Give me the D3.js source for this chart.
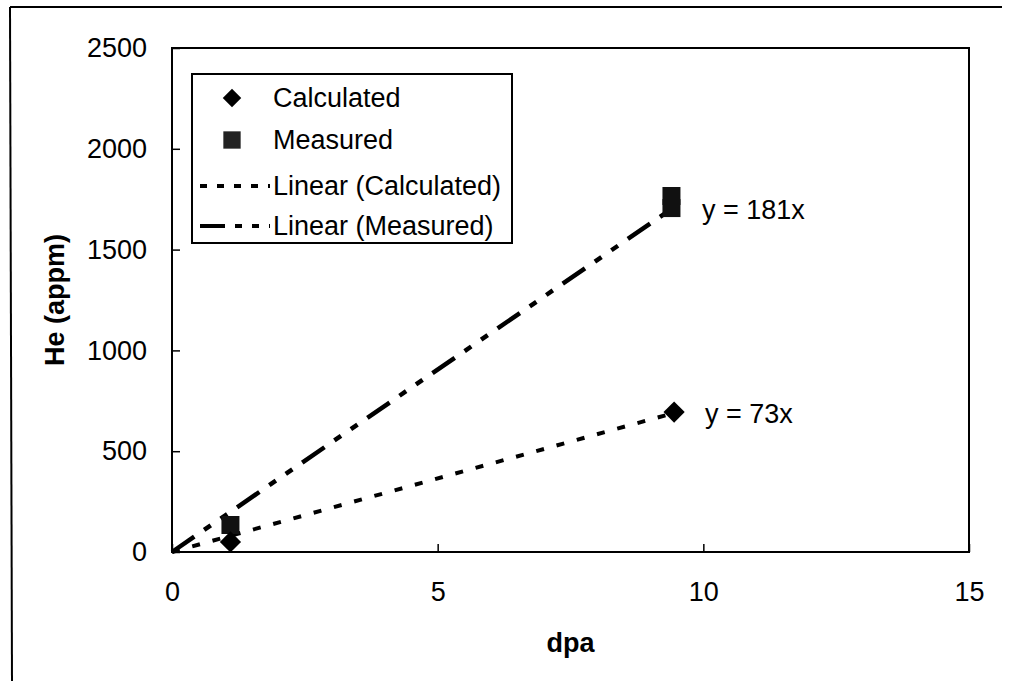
<!DOCTYPE html>
<html>
<head>
<meta charset="utf-8">
<script src="https://cdn.jsdelivr.net/npm/d3@7"></script>
<style>
  body { margin: 0; background: #fff; }
  text { font-family: "Liberation Sans", Arial, sans-serif; fill: #000; }
</style>
</head>
<body>
<svg width="1010" height="681"></svg>
<script>
// data
const calcX = [1.1, 9.45]
const calcY = [50, 694]
const measX = [1.1, 9.4, 9.4]
const measY = [134, 1706, 1766]
const slopes = [73, 181]          // trendline slopes (calculated, measured)
const fitLabels = ["y = 73x", "y = 181x"]
const xTicks = [0, 5, 10, 15]
const yTicks = [0, 500, 1000, 1500, 2000, 2500]
const legendNames = ["Calculated", "Measured", "Linear (Calculated)", "Linear (Measured)"]

const plotLeft = 172, plotRight = 969, plotTop = 48, plotBottom = 552

const svg = d3.select("svg")

// outer chart border (top + left visible in the scan)
svg.append("line").attr("x1", 10).attr("y1", 7).attr("x2", 1002).attr("y2", 7)
    .attr("stroke", "#000").attr("stroke-width", 2)
svg.append("line").attr("x1", 10).attr("y1", 7).attr("x2", 12).attr("y2", 681)
    .attr("stroke", "#000").attr("stroke-width", 2)

const x = d3.scaleLinear().domain([0, 15]).range([plotLeft, plotRight])
const y = d3.scaleLinear().domain([0, 2500]).range([plotBottom, plotTop])

// plot box
svg.append("rect")
    .attr("x", plotLeft).attr("y", plotTop)
    .attr("width", plotRight - plotLeft).attr("height", plotBottom - plotTop)
    .attr("fill", "none").attr("stroke", "#000").attr("stroke-width", 2)

// axes, ticks pointing inward
const yAxis = svg.append("g")
    .attr("transform", `translate(${plotLeft},0)`)
    .call(d3.axisLeft(y).tickValues(yTicks).tickFormat(d3.format("d")).tickSize(-8).tickPadding(25))
yAxis.select(".domain").remove()
yAxis.selectAll("line").attr("stroke", "#000").attr("stroke-width", 1.5)
yAxis.selectAll("text").attr("font-size", "27px").attr("font-family", "Liberation Sans, Arial, sans-serif")

const xAxis = svg.append("g")
    .attr("transform", `translate(0,${plotBottom})`)
    .call(d3.axisBottom(x).tickValues(xTicks).tickFormat(d3.format("d")).tickSize(-8).tickPadding(30))
xAxis.select(".domain").remove()
xAxis.selectAll("line").attr("stroke", "#000").attr("stroke-width", 1.5)
xAxis.selectAll("text").attr("font-size", "27px").attr("font-family", "Liberation Sans, Arial, sans-serif")

// axis titles
svg.append("text")
    .attr("x", (plotLeft + plotRight) / 2).attr("y", 652)
    .attr("text-anchor", "middle")
    .attr("font-size", "27px").attr("font-weight", "bold")
    .text("dpa")

svg.append("text")
    .attr("transform", `translate(64, ${(plotTop + plotBottom) / 2}) rotate(-90)`)
    .attr("text-anchor", "middle")
    .attr("font-size", "27px").attr("font-weight", "bold")
    .text("He (appm)")

// trendlines
const dashCalc = "8,13"
const dashMeas = "27,12,8,12,8,12"
const xMax = d3.max(calcX.concat(measX))
const line = d3.line().x(d => x(d[0])).y(d => y(d[1]))

svg.append("path")
    .attr("d", line([[0, 0], [xMax, slopes[0] * xMax]]))
    .attr("fill", "none").attr("stroke", "#000").attr("stroke-width", 4)
    .attr("stroke-dasharray", dashCalc)

svg.append("path")
    .attr("d", line([[0, 0], [xMax, slopes[1] * xMax]]))
    .attr("fill", "none").attr("stroke", "#000").attr("stroke-width", 4.5)
    .attr("stroke-dasharray", dashMeas)

// points
const diamond = d3.symbol(d3.symbolSquare, 225)
const square = d3.symbol(d3.symbolSquare, 324)

svg.selectAll(".meas").data(measX).join("path")
    .attr("class", "meas")
    .attr("d", square())
    .attr("transform", (d, i) => `translate(${x(d)},${y(measY[i])})`)
    .attr("fill", "#111")

svg.selectAll(".calc").data(calcX).join("path")
    .attr("class", "calc")
    .attr("d", diamond())
    .attr("transform", (d, i) => `translate(${x(d)},${y(calcY[i])}) rotate(45)`)
    .attr("fill", "#000")

// fit equations
svg.append("text").attr("x", 705).attr("y", 423)
    .attr("font-size", "27px").text(fitLabels[0])
svg.append("text").attr("x", 702).attr("y", 219)
    .attr("font-size", "27px").text(fitLabels[1])

// legend
const lg = svg.append("g")
lg.append("rect")
    .attr("x", 192).attr("y", 74).attr("width", 320).attr("height", 169)
    .attr("fill", "#fff").attr("stroke", "#000").attr("stroke-width", 2)

const rowY = [98, 140, 186, 226]
lg.selectAll("text").data(legendNames).join("text")
    .attr("x", 273).attr("y", (d, i) => rowY[i])
    .attr("dy", "0.35em")
    .attr("font-size", "27px")
    .text(d => d)

lg.append("path")
    .attr("d", d3.symbol(d3.symbolSquare, 170)())
    .attr("transform", `translate(232,${rowY[0]}) rotate(45)`)
lg.append("path")
    .attr("d", d3.symbol(d3.symbolSquare, 300)())
    .attr("transform", `translate(232,${rowY[1]})`)
    .attr("fill", "#222")
lg.append("line")
    .attr("x1", 200).attr("x2", 270).attr("y1", rowY[2]).attr("y2", rowY[2])
    .attr("stroke", "#000").attr("stroke-width", 4).attr("stroke-dasharray", "7,10")
lg.append("line")
    .attr("x1", 200).attr("x2", 270).attr("y1", rowY[3]).attr("y2", rowY[3])
    .attr("stroke", "#000").attr("stroke-width", 4).attr("stroke-dasharray", "25,10,7,10,7,10")
</script>
</body>
</html>
